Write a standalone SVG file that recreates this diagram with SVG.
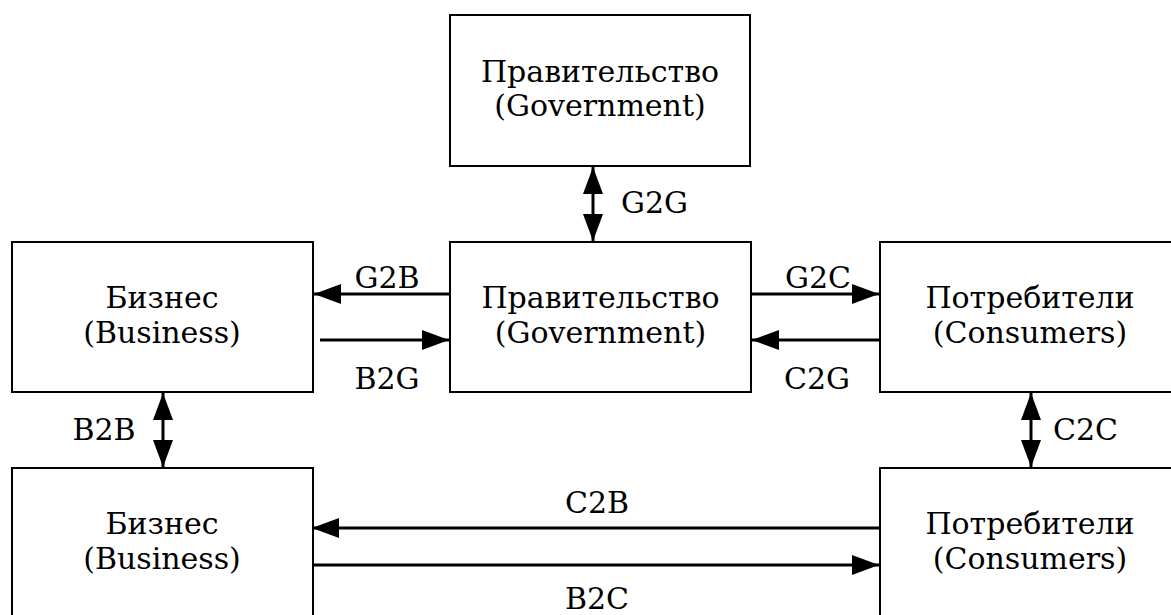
<svg xmlns="http://www.w3.org/2000/svg" width="1171" height="615" viewBox="0 0 1171 615">
  <defs>
    <style>
      .box { fill: #ffffff; stroke: #000000; stroke-width: 2; }
      .t { font-family: 'DejaVu Serif', serif; font-size: 30px; fill: #000000; }
      .c { text-anchor: middle; }
      .arr { stroke: #000000; stroke-width: 3; fill: none; }
    </style>
    <marker id="ah" viewBox="0 0 27 20" refX="27" refY="10" markerWidth="27" markerHeight="20" markerUnits="userSpaceOnUse" orient="auto-start-reverse">
      <path d="M0,0 L27,10 L0,20 z" fill="#000000"/>
    </marker>
  </defs>
  <rect width="1171" height="615" fill="#ffffff"/>

  <g id="gov-top">
    <rect class="box" x="450" y="15" width="300" height="151"/>
    <text class="t c" x="600" y="82">Правительство</text>
    <text class="t c" x="600" y="116">(Government)</text>
  </g>
  <g id="gov-mid">
    <rect class="box" x="450" y="242" width="301" height="150"/>
    <text class="t c" x="600.5" y="308">Правительство</text>
    <text class="t c" x="600.5" y="343">(Government)</text>
  </g>
  <g id="biz-top">
    <rect class="box" x="12" y="242" width="301" height="150"/>
    <text class="t c" x="162" y="308">Бизнес</text>
    <text class="t c" x="162" y="343">(Business)</text>
  </g>
  <g id="cons-top">
    <rect class="box" x="880" y="242" width="310" height="150"/>
    <text class="t c" x="1030" y="308">Потребители</text>
    <text class="t c" x="1030" y="343">(Consumers)</text>
  </g>
  <g id="biz-bottom">
    <rect class="box" x="12" y="468" width="301" height="160"/>
    <text class="t c" x="162" y="534">Бизнес</text>
    <text class="t c" x="162" y="569">(Business)</text>
  </g>
  <g id="cons-bottom">
    <rect class="box" x="880" y="468" width="310" height="160"/>
    <text class="t c" x="1030" y="534">Потребители</text>
    <text class="t c" x="1030" y="569">(Consumers)</text>
  </g>

  <g id="connectors">
    <line class="arr" x1="593" y1="167" x2="593" y2="241" marker-start="url(#ah)" marker-end="url(#ah)"/>
    <line class="arr" x1="163" y1="393" x2="163" y2="467" marker-start="url(#ah)" marker-end="url(#ah)"/>
    <line class="arr" x1="1031" y1="393" x2="1031" y2="467" marker-start="url(#ah)" marker-end="url(#ah)"/>
    <line class="arr" x1="450" y1="294" x2="314" y2="294" marker-end="url(#ah)"/>
    <line class="arr" x1="320" y1="340" x2="449" y2="340" marker-end="url(#ah)"/>
    <line class="arr" x1="751" y1="294" x2="879" y2="294" marker-end="url(#ah)"/>
    <line class="arr" x1="881" y1="340" x2="752" y2="340" marker-end="url(#ah)"/>
    <line class="arr" x1="880" y1="528" x2="312" y2="528" marker-end="url(#ah)"/>
    <line class="arr" x1="313" y1="565" x2="879" y2="565" marker-end="url(#ah)"/>
  </g>

  <g id="labels">
    <text class="t" x="621" y="213">G2G</text>
    <text class="t c" x="387" y="288">G2B</text>
    <text class="t c" x="387" y="389">B2G</text>
    <text class="t c" x="818" y="288">G2C</text>
    <text class="t c" x="817" y="389">C2G</text>
    <text class="t c" x="104" y="440">B2B</text>
    <text class="t" x="1053" y="440">C2C</text>
    <text class="t c" x="597" y="513">C2B</text>
    <text class="t c" x="597" y="609">B2C</text>
  </g>
</svg>
